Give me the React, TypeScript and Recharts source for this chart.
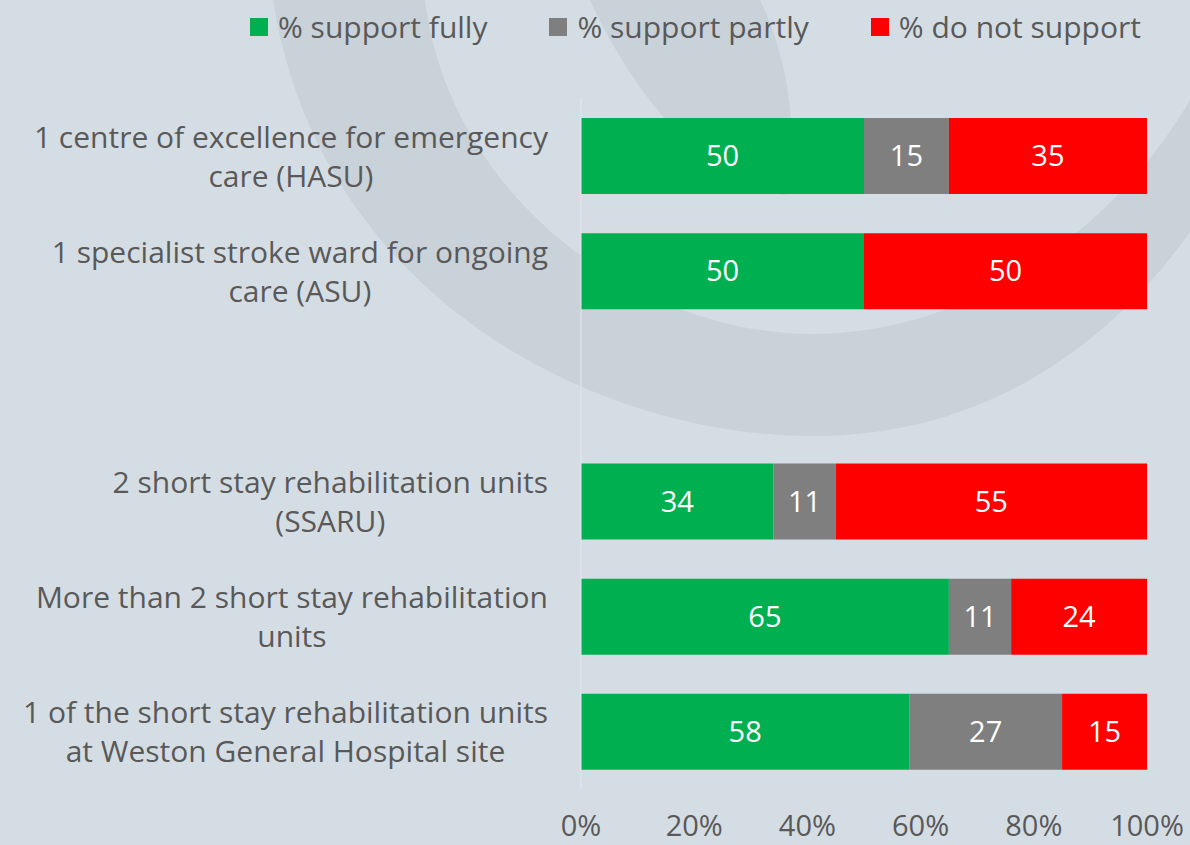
import React from 'react';
import { BarChart, Bar, XAxis, YAxis, LabelList } from 'recharts';

// proposals (top to bottom); the empty entry is the gap row in the original
const categories = [
  '1 centre of excellence for emergency\ncare (HASU)',
  '1 specialist stroke ward for ongoing\ncare (ASU)',
  '',
  '2 short stay rehabilitation units\n(SSARU)',
  'More than 2 short stay rehabilitation\nunits',
  '1 of the short stay rehabilitation units\nat Weston General Hospital site',
];

const supportFully = [50, 50, null, 34, 65, 58];
const supportPartly = [15, 0, null, 11, 11, 27];
const doNotSupport = [35, 50, null, 55, 24, 15];

const xTicks = [0, 20, 40, 60, 80, 100];

const series = [
  { key: 'fully', name: '% support fully', color: '#00B050' },
  { key: 'partly', name: '% support partly', color: '#7F7F7F' },
  { key: 'not', name: '% do not support', color: '#FF0000' },
];

const data = categories.map((name, i) => ({
  name,
  fully: supportFully[i],
  partly: supportPartly[i],
  not: doNotSupport[i],
}));

const FONT = '"Open Sans", sans-serif';
const TEXT = '#595959';
const LABEL_SIZE = 30;

let ctx: CanvasRenderingContext2D | null = null;
const measure = (s: string) => {
  if (!ctx) ctx = document.createElement('canvas').getContext('2d');
  if (!ctx) return s.length * 16;
  ctx.font = `${LABEL_SIZE}px "Open Sans"`;
  return ctx.measureText(s).width;
};

// Excel-style wrapped label: lines centred on each other, block right-aligned
const CategoryTick = ({ x, y, payload }: any) => {
  const lines: string[] = String(payload.value || '').split('\n').filter(Boolean);
  if (!lines.length) return null;
  const maxW = Math.max(...lines.map(measure));
  const cx = x - maxW / 2;
  const lh = 39;
  const start = y - ((lines.length - 1) * lh) / 2;
  return (
    <text textAnchor="middle" fill={TEXT} fontSize={LABEL_SIZE} fontFamily={FONT}>
      {lines.map((l, i) => (
        <tspan key={i} x={cx} y={start + i * lh} dominantBaseline="central">
          {l}
        </tspan>
      ))}
    </text>
  );
};

const hideZero = (v: any) => (v ? v : '');

const Backdrop = () => (
  <svg width={1190} height={845} style={{ position: 'absolute', left: 0, top: 0 }}>
    <rect width={1190} height={845} fill="#d5dde4" />
    <path
      d="M 273 0 C 320 300 600 436 812 436 C 1000 436 1120 330 1190 232 L 1190 100 C 1120 220 980 334 812 334 C 640 334 450 200 425 0 Z"
      fill="#c9d1d9"
    />
    <path d="M 590 0 C 640 110 720 190 785 195 C 800 150 790 60 760 0 Z" fill="#c9d1d9" />
  </svg>
);

const LegendRow = () => (
  <div
    style={{
      position: 'absolute',
      top: 8,
      left: 250,
      display: 'flex',
      alignItems: 'center',
      fontFamily: FONT,
      fontSize: 30,
      color: TEXT,
      whiteSpace: 'nowrap',
      lineHeight: '38px',
    }}
  >
    {series.map((s, i) => (
      <div key={s.key} style={{ display: 'flex', alignItems: 'center', marginRight: i < 2 ? 62 : 0 }}>
        <span style={{ width: 18, height: 18, background: s.color, display: 'inline-block', marginRight: 10 }} />
        <span>{s.name}</span>
      </div>
    ))}
  </div>
);

export default function App() {
  return (
    <div style={{ position: 'absolute', left: 0, top: 0, width: 1190, height: 845, overflow: 'hidden' }}>
      <Backdrop />
      <LegendRow />
      <div style={{ position: 'absolute', left: 0, top: 0 }}>
        <BarChart
          width={1190}
          height={845}
          data={data}
          layout="vertical"
          margin={{ top: 98, right: 43, bottom: 0, left: 0 }}
          barCategoryGap="17%"
        >
          <XAxis
            type="number"
            domain={[0, 100]}
            ticks={xTicks}
            tickFormatter={(v) => `${v}%`}
            axisLine={false}
            tickLine={false}
            tickSize={0}
            tickMargin={26}
            height={56}
            interval={0}
            tick={{ fill: TEXT, fontSize: 29, fontFamily: FONT }}
          />
          <YAxis
            type="category"
            dataKey="name"
            width={581}
            axisLine={{ stroke: '#e2e7eb', strokeWidth: 1 }}
            tickLine={false}
            tickSize={0}
            tickMargin={33}
            interval={0}
            tick={<CategoryTick />}
          />
          {series.map((s) => (
            <Bar key={s.key} dataKey={s.key} name={s.name} stackId="a" fill={s.color} barSize={76} isAnimationActive={false}>
              <LabelList
                dataKey={s.key}
                position="center"
                formatter={hideZero}
                fill="#FFFFFF"
                fontSize={29}
                fontFamily={FONT}
              />
            </Bar>
          ))}
        </BarChart>
      </div>
    </div>
  );
}
